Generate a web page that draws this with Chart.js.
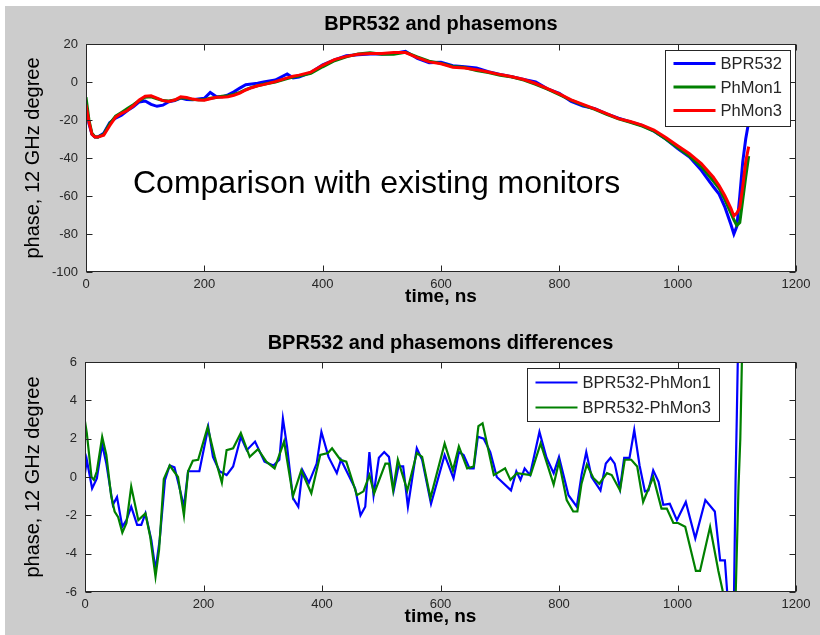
<!DOCTYPE html>
<html>
<head>
<meta charset="utf-8">
<script src="https://cdn.jsdelivr.net/npm/chart.js@4.4.0/dist/chart.umd.min.js"></script>
<style>
  html, body { margin: 0; padding: 0; background: #fff; }
  #panel { position: absolute; left: 5px; top: 6px; width: 815px; height: 629px; background: #cccccc; }
  canvas { position: absolute; left: 0; }
  #topChart { top: 0; width: 820px; height: 318px; }
  #bottomChart { top: 318px; width: 820px; height: 317px; }
</style>
</head>
<body>
<div id="panel"></div>
<canvas id="topChart" width="820" height="318"></canvas>
<canvas id="bottomChart" width="820" height="317"></canvas>
<script>
// ---- data ----
const timeTicks = [0, 200, 400, 600, 800, 1000, 1200];
const phaseTicks = [-100, -80, -60, -40, -20, 0, 20];
const diffTicks = [-6, -4, -2, 0, 2, 4, 6];

const topTime = [0, 5, 10, 15, 20, 30, 40, 50, 60, 70, 80, 90, 100, 110, 120, 130, 140, 150, 160, 170,
  180, 190, 200, 210, 220, 230, 240, 250, 260, 270, 280, 290, 300, 320, 340, 350, 360, 380, 400, 420,
  440, 460, 480, 500, 520, 540, 560, 580, 600, 620, 640, 660, 680, 700, 720, 740, 760, 780, 800, 820,
  840, 860, 880, 900, 920, 940, 960, 980, 1000, 1020, 1040, 1060, 1070, 1080, 1090, 1095, 1100, 1105,
  1110, 1115, 1120];

const bpr532 = [-12, -22, -27.5, -29, -29, -27, -21.5, -19, -17.5, -15, -13, -10.5, -10, -11.8, -12.8, -12.2, -10.4, -9.8, -8.5, -9.2,
  -9.4, -9, -8.6, -5.5, -7.6, -7.8, -6.8, -5.2, -3.2, -1.4, -1, -0.6, 0, 1, 4.2, 2.2, 2.6, 5, 9, 11.6,
  13.8, 14.4, 14.8, 14.8, 15, 16.2, 12.4, 10.2, 10.4, 8.6, 8, 7.4, 5.4, 4, 2.8, 1.4, 0, -3.6, -6, -10.2,
  -12.6, -14, -16.8, -19, -21, -22.9, -25.9, -30, -35, -39.5, -46.5, -55, -59, -66, -75, -80, -76, -60,
  -42, -30, -21];

const phMon1 = [-8, -20, -27, -28.8, -29, -27.5, -22, -18, -16, -14, -12, -9.8, -8, -7.8, -8.8, -9.8, -10, -9.5, -8.3, -8.5,
  -9.2, -9.4, -9.3, -8.6, -8.2, -7.5, -7.2, -6.5, -5.5, -4, -2.8, -2, -1.2, 0, 1.8, 2.6, 3.2, 4.6, 8, 11.2,
  13.2, 14.8, 15.4, 14.6, 14.6, 15.6, 13.2, 11, 9.8, 8.2, 7.6, 6, 5, 3.6, 2.6, 1, -1.2, -3.8, -6.6, -9.6,
  -12.2, -14.4, -17, -19.4, -21.2, -23.2, -25.8, -30, -34.5, -39, -44.5, -52, -56, -62, -69, -72.5, -75.5, -74,
  -62, -50, -39];

const phMon3 = [-12, -21, -27.5, -29, -29, -28, -23, -18.5, -16.5, -15, -12.5, -9.5, -7.5, -7.3, -8.5, -9.8, -10.2, -9.5, -7.8, -8.2,
  -9, -9.5, -9.6, -8.8, -8, -8, -7.8, -7, -5.8, -4.2, -3, -2, -1.4, 0.2, 2.2, 3, 3.6, 5.2, 8.8, 11.8,
  13.5, 14.6, 15, 15, 15.5, 15.5, 12.8, 10.6, 9.6, 7.8, 7.4, 6.5, 5.3, 3.9, 2.8, 1.3, -0.8, -3.5, -6.3, -9.4,
  -11.8, -14.1, -16.7, -19.3, -20.8, -22.7, -25.3, -29.2, -33.5, -37.8, -43, -50, -54.5, -60, -66.5, -70.5, -69, -66,
  -55, -42, -34];

const diff1Time = [0, 3, 12, 20, 29, 36, 47, 54, 63, 70, 78, 88, 95, 102, 112, 119, 126, 135, 143, 151,
  159, 167, 174, 185, 193, 208, 216, 227, 239, 250, 263, 273, 287, 303, 318, 328, 334, 341, 351, 360,
  367, 378, 391, 399, 411, 425, 432, 456, 465, 473, 480, 487, 496, 505, 513, 521, 529, 537, 545, 560,
  569, 584, 607, 622, 631, 639, 649, 656, 663, 673, 684, 695, 719, 728, 735, 742, 751, 767, 779, 791,
  800, 816, 830, 838, 846, 855, 870, 879, 887, 894, 903, 910, 919, 927, 936, 945, 951, 959, 968, 976,
  987, 999, 1014, 1030, 1047, 1063, 1072, 1080, 1085, 1090, 1095, 1098, 1100, 1102, 1106, 1120];
const diff1 = [0.2, 0.9, -0.6, -0.07, 1.7, 0.7, -1.45, -1.05, -2.6, -2.25, -1.55, -2.5, -2.5, -1.9, -3.3, -4.85, -3.3, -0.15, 0.6, 0.5,
  -0.5, -1.55, 0.3, 0.3, 0.3, 2.6, 1.05, 0.3, 0.1, 0.55, 2.1, 1.4, 1.85, 0.8, 0.6, 0.9, 3.05, 1.6, -1.1, -1.55,
  0.35, -0.3, 0.7, 2.35, 1.05, 0.2, 0.9, -0.6, -2, -1.55, 1.3, -0.95, 1, 1.3, 1.05, -0.7, 0.55, 0.55, -1.55, 1.5,
  0.9, -1.4, 1.15, -0.07, 1.3, 1.15, 0.45, 0.45, 2.1, 2, 1.3, 0, -0.7, 0.3, -0.15, 0.45, 0.1, 2.35, 1, 0.2,
  1.05, -0.95, -1.55, 0.1, 1.3, 0, -0.7, 0.7, 1, 0.7, -0.6, 1, 1, 2.45, 0.6, -0.75, -0.7, 0.35, -0.25, -1.45,
  -1.4, -2.25, -1.3, -3.2, -1.2, -1.8, -4.35, -4.35, -6.5, -10, -7, -0.2, 3, 6.5, 12, 18];

const diff3Time = [0, 3, 11, 15, 20, 29, 36, 44, 50, 56, 63, 70, 78, 90, 102, 110, 119, 125, 133, 143,
  157, 167, 174, 182, 191, 207, 219, 231, 239, 250, 263, 278, 292, 306, 320, 336, 351, 365, 382, 397,
  410, 417, 431, 441, 459, 470, 480, 488, 507, 513, 520, 528, 544, 560, 569, 583, 607, 621, 631, 645,
  656, 664, 671, 690, 709, 718, 729, 752, 769, 791, 800, 813, 824, 831, 838, 847, 858, 868, 881, 889,
  903, 911, 922, 932, 942, 959, 973, 982, 993, 1001, 1013, 1031, 1038, 1055, 1069, 1076, 1082, 1090, 1097, 1100,
  1103, 1106, 1109, 1114, 1120];
const diff3 = [2.9, 2.3, 0, -0.15, 0.3, 2.1, 1.15, -0.95, -1.8, -2.1, -2.9, -2.4, -0.5, -2.25, -1.9, -3.1, -5.2, -3.8, -0.1, 0.6,
  0, -2, 0.3, 0.85, 0.9, 2.6, 1.05, -0.3, 1.4, 1.5, 2.3, 1.05, 1.45, 0.8, 0.45, 1.85, -1, 0.35, -0.85, 1.15,
  1.25, 1.5, 0.9, 0.8, -0.95, -0.75, 0.1, -0.85, 0.7, 0.7, -0.7, 0.9, -0.7, 1.25, 1.05, -1.1, 1.75, 0.35, 1.6, 0.45,
  0.55, 2.65, 2.8, 0.1, 0.45, -0.15, 0.2, 0.1, 1.75, -0.4, 0.8, -1.2, -1.8, -1.8, -0.35, 0.65, -0.05, -0.35, 0.2, 0.1,
  -0.7, 0.9, 0.9, 0.55, -1.3, 0, -1.65, -1.65, -2.4, -2.4, -2.6, -4.9, -4.9, -2.6, -4.9, -5.9, -7.5, -9, -7.5, -4,
  -0.5, 2, 6.5, 12, 14];

// ---- helpers ----
const narrow = "'Liberation Sans Narrow', 'Liberation Sans', Arial, sans-serif";
const sans = "'Liberation Sans', Arial, sans-serif";
const ink = '#262626';

function pts(xs, ys) {
  return xs.map((x, i) => ({ x: x, y: ys[i] }));
}

// white axes area, MATLAB-like box with inward ticks, title over the axes, boxed legend and note
const matlabAxes = {
  id: 'matlabAxes',
  beforeDatasetsDraw(chart) {
    const { ctx, chartArea: a } = chart;
    ctx.save();
    ctx.fillStyle = '#ffffff';
    ctx.fillRect(a.left, a.top, a.right - a.left, a.bottom - a.top);
    ctx.restore();
  },
  afterDatasetsDraw(chart, args, opts) {
    const { ctx, chartArea: a, scales } = chart;
    const x = scales.x, y = scales.y;
    const L = Math.round(a.left) + 0.5, R = Math.round(a.right) - 0.5;
    const T = Math.round(a.top) + 0.5, B = Math.round(a.bottom) - 0.5;
    ctx.save();
    ctx.strokeStyle = ink;
    ctx.lineWidth = 1;
    ctx.beginPath();
    x.ticks.forEach(t => {
      const px = Math.round(x.getPixelForValue(t.value)) + 0.5;
      ctx.moveTo(px, B); ctx.lineTo(px, B - 6);
      ctx.moveTo(px, T); ctx.lineTo(px, T + 6);
    });
    y.ticks.forEach(t => {
      const py = Math.round(y.getPixelForValue(t.value)) + 0.5;
      ctx.moveTo(L, py); ctx.lineTo(L + 6, py);
      ctx.moveTo(R, py); ctx.lineTo(R - 6, py);
    });
    ctx.stroke();
    ctx.strokeRect(L, T, R - L, B - T);

    // title centred over the axes box
    if (opts.title) {
      ctx.fillStyle = '#000';
      ctx.font = opts.title.font;
      ctx.textAlign = 'center';
      ctx.textBaseline = 'middle';
      ctx.fillText(opts.title.text, (a.left + a.right) / 2, opts.title.y);
    }

    if (opts.note) {
      ctx.fillStyle = '#000';
      ctx.font = opts.note.font;
      ctx.textAlign = 'left';
      ctx.textBaseline = 'alphabetic';
      ctx.fillText(opts.note.text, opts.note.x, opts.note.y);
    }

    const lg = opts.legend;
    if (lg) {
      const left = Math.round(a.right - lg.right - lg.width) + 0.5;
      const top = Math.round(a.top + lg.top) + 0.5;
      ctx.fillStyle = '#fff';
      ctx.fillRect(left, top, lg.width, lg.height);
      ctx.strokeStyle = ink;
      ctx.lineWidth = 1;
      ctx.strokeRect(left, top, lg.width, lg.height);
      ctx.font = lg.font;
      ctx.textBaseline = 'middle';
      ctx.textAlign = 'left';
      chart.data.datasets.forEach((ds, i) => {
        const yy = top + lg.firstRow + i * lg.rowStep;
        ctx.strokeStyle = ds.borderColor;
        ctx.lineWidth = ds.borderWidth;
        ctx.beginPath();
        ctx.moveTo(left + 8, yy);
        ctx.lineTo(left + 50, yy);
        ctx.stroke();
        ctx.fillStyle = ink;
        ctx.fillText(ds.label, left + 55, yy + 1);
      });
    }
    ctx.restore();
  }
};

function makeOptions(cfg) {
  return {
    responsive: false,
    animation: false,
    layout: { padding: { left: 0, right: 24, top: 44, bottom: 0 } },
    plugins: {
      legend: { display: false },
      tooltip: { enabled: false },
      title: { display: false },
      matlabAxes: {
        legend: cfg.legend,
        note: cfg.note,
        title: { text: cfg.title, y: cfg.titleY, font: 'bold 20px ' + sans }
      }
    },
    scales: {
      x: {
        type: 'linear',
        min: 0,
        max: 1200,
        afterBuildTicks: s => { s.ticks = timeTicks.map(v => ({ value: v })); },
        afterFit: s => { s.height = cfg.xHeight; },
        grid: { display: false, drawTicks: false },
        border: { display: false },
        ticks: { autoSkip: false, maxRotation: 0, padding: 5, color: ink,
          font: { family: narrow, size: 13 }, callback: v => String(v) },
        title: { display: true, text: 'time, ns', color: '#000',
          font: { family: sans, size: 19, weight: 'bold' }, padding: { top: 0, bottom: cfg.xTitlePad } }
      },
      y: {
        type: 'linear',
        min: cfg.yTicks[0],
        max: cfg.yTicks[cfg.yTicks.length - 1],
        afterBuildTicks: s => { s.ticks = cfg.yTicks.map(v => ({ value: v })); },
        afterFit: s => { s.width = cfg.yWidth; },
        grid: { display: false, drawTicks: false },
        border: { display: false },
        ticks: { autoSkip: false, padding: 8, color: ink,
          font: { family: narrow, size: 13 }, callback: v => String(v) },
        title: { display: true, text: 'phase, 12 GHz degree', color: '#000',
          font: { family: sans, size: 20 }, padding: { top: 21, bottom: 0 } }
      }
    }
  };
}

new Chart(document.getElementById('topChart'), {
  type: 'line',
  data: {
    datasets: [
      { label: 'BPR532', data: pts(topTime, bpr532), borderColor: '#0000ff', borderWidth: 3, order: 2 },
      { label: 'PhMon1', data: pts(topTime, phMon1), borderColor: '#008000', borderWidth: 3, order: 1 },
      { label: 'PhMon3', data: pts(topTime, phMon3), borderColor: '#ff0000', borderWidth: 3, order: 0 }
    ].map(d => Object.assign(d, { pointRadius: 0, tension: 0, fill: false, clip: 0 }))
  },
  options: makeOptions({
    title: 'BPR532 and phasemons',
    titleY: 24.5,
    yTicks: phaseTicks,
    xHeight: 46,
    xTitlePad: 9.6,
    yWidth: 86,
    legend: { right: 6, top: 6, width: 125, height: 76, firstRow: 13, rowStep: 23.5, font: '16.5px ' + sans },
    note: { text: 'Comparison with existing monitors', x: 133, y: 193, font: '32px ' + sans }
  }),
  plugins: [matlabAxes]
});

new Chart(document.getElementById('bottomChart'), {
  type: 'line',
  data: {
    datasets: [
      { label: 'BPR532-PhMon1', data: pts(diff1Time, diff1), borderColor: '#0000ff', borderWidth: 2.2, order: 1 },
      { label: 'BPR532-PhMon3', data: pts(diff3Time, diff3), borderColor: '#008000', borderWidth: 2.2, order: 0 }
    ].map(d => Object.assign(d, { pointRadius: 0, tension: 0, fill: false, clip: 0 }))
  },
  options: makeOptions({
    title: 'BPR532 and phasemons differences',
    titleY: 25.5,
    yTicks: diffTicks,
    xHeight: 43,
    xTitlePad: 6.6,
    yWidth: 85,
    legend: { right: 77, top: 6, width: 192, height: 53, firstRow: 14, rowStep: 25, font: '16.5px ' + sans }
  }),
  plugins: [matlabAxes]
});
</script>
</body>
</html>
